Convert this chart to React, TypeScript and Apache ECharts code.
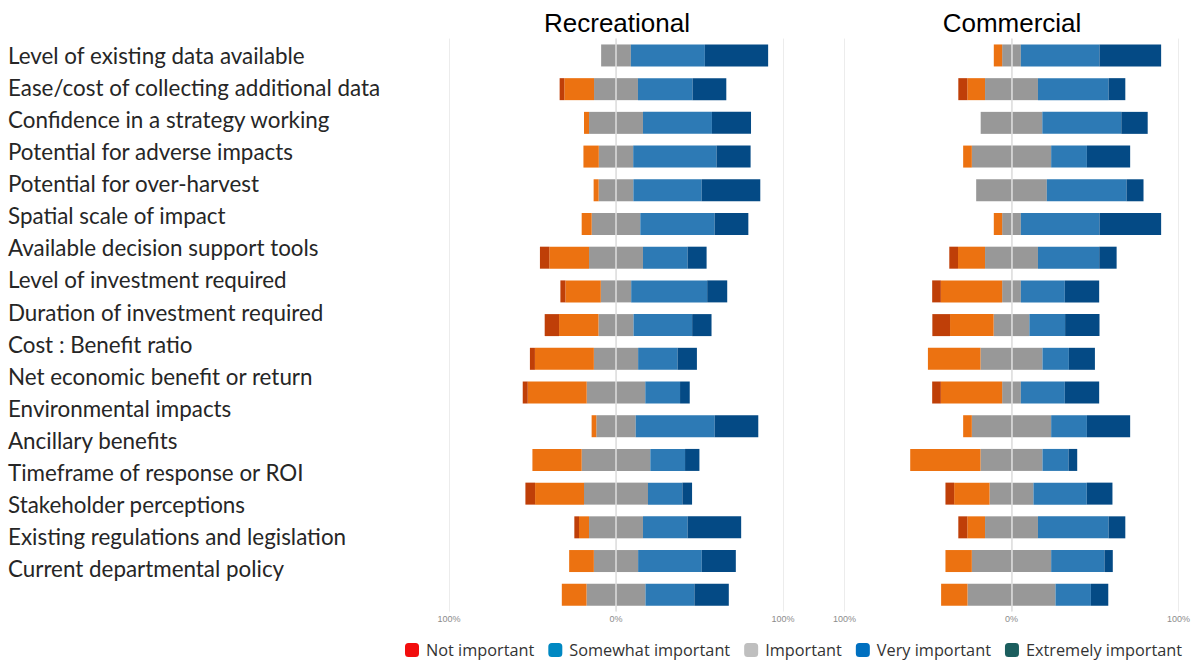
import React, { useEffect, useRef } from "react";
import * as echarts from "echarts";

const categories = [
  "Level of existing data available",
  "Ease/cost of collecting additional data",
  "Confidence in a strategy working",
  "Potential for adverse impacts",
  "Potential for over-harvest",
  "Spatial scale of impact",
  "Available decision support tools",
  "Level of investment required",
  "Duration of investment required",
  "Cost : Benefit ratio",
  "Net economic benefit or return",
  "Environmental impacts",
  "Ancillary benefits",
  "Timeframe of response or ROI",
  "Stakeholder perceptions",
  "Existing regulations and legislation",
  "Current departmental policy",
];

const panelTitles = ["Recreational", "Commercial"];
const legendNames = ["Not important", "Somewhat important", "Important", "Very important", "Extremely important"];
const tickLabels: Record<string, string> = { "-100": "100%", "0": "0%", "100": "100%" };

// Recreational (%)
const recNot = [0, 2.8, 0, 0, 0, 0, 5.6, 3.0, 8.6, 3.0, 3.0, 0, 0, 5.8, 2.8, 0, 0];
const recSomewhat = [0, 17.8, 3.0, 9.2, 3.0, 6.0, 23.8, 21.2, 23.6, 35.3, 35.3, 2.8, 29.5, 29.3, 6.0, 14.8, 14.8];
const recImportant = [17.8, 26.3, 32.3, 20.6, 20.8, 29.1, 32.3, 18.2, 21.0, 26.5, 35.1, 23.6, 41.1, 38.3, 32.3, 26.5, 35.3];
const recVery = [44.3, 32.7, 41.3, 49.9, 40.9, 44.5, 26.7, 45.5, 35.1, 23.6, 20.8, 47.3, 20.8, 20.6, 26.7, 38.1, 29.3];
const recExtremely = [37.9, 20.2, 23.4, 20.4, 35.1, 20.2, 11.4, 12.0, 11.6, 11.6, 5.8, 26.1, 8.6, 5.8, 32.1, 20.4, 20.6];

// Commercial (%)
const comNot = [0, 5.4, 0, 0, 0, 0, 5.2, 5.2, 10.6, 0, 5.2, 0, 0, 5.2, 5.4, 0, 0];
const comSomewhat = [5.0, 10.6, 0, 5.2, 0, 5.0, 16.2, 36.7, 26.1, 31.5, 36.7, 5.2, 42.1, 21.2, 10.6, 15.8, 15.8];
const comImportant = [11.2, 31.7, 36.9, 47.5, 42.3, 11.2, 31.7, 11.2, 21.4, 37.1, 11.2, 47.5, 37.1, 26.3, 31.7, 47.5, 52.7];
const comVery = [47.1, 42.3, 47.3, 21.4, 47.7, 47.1, 36.7, 26.3, 21.4, 15.8, 26.3, 21.4, 15.6, 31.9, 42.3, 31.9, 21.2];
const comExtremely = [36.9, 10.0, 15.8, 25.9, 10.2, 36.9, 10.4, 20.6, 20.6, 15.6, 20.6, 25.9, 5.2, 15.4, 10.0, 5.0, 10.4];

const barColors = {
  not: "#BF3F08",
  somewhat: "#EC7211",
  important: "#989898",
  very: "#2D7AB5",
  extremely: "#044A85",
};
const legendColors = ["#F20D0D", "#0088C2", "#BFBFBF", "#0070C0", "#1B5E5E"];

function panelSeries(
  idx: number,
  notI: number[],
  some: number[],
  imp: number[],
  very: number[],
  ext: number[]
) {
  const base = {
    type: "bar" as const,
    xAxisIndex: idx,
    yAxisIndex: idx,
    stack: "p" + idx,
    barWidth: 22,
    silent: true,
  };
  return [
    { ...base, name: "imp-l-" + idx, data: imp.map((v) => -v / 2), itemStyle: { color: barColors.important } },
    { ...base, name: "imp-r-" + idx, data: imp.map((v) => v / 2), itemStyle: { color: barColors.important } },
    { ...base, name: "some-" + idx, data: some.map((v) => -v), itemStyle: { color: barColors.somewhat } },
    { ...base, name: "very-" + idx, data: very, itemStyle: { color: barColors.very } },
    { ...base, name: "not-" + idx, data: notI.map((v) => -v), itemStyle: { color: barColors.not } },
    {
      ...base,
      name: "ext-" + idx,
      data: ext,
      itemStyle: { color: barColors.extremely },
      markLine: {
        silent: true,
        symbol: ["none", "none"],
        label: { show: false },
        lineStyle: { color: "#dedede", width: 1.5, type: "solid" },
        data: [{ xAxis: 0 }],
        animation: false,
      },
    },
  ];
}

export default function App() {
  const ref = useRef<HTMLDivElement>(null);
  useEffect(() => {
    const chart = echarts.init(ref.current!, null, { renderer: "svg" });
    const valueAxis = (gridIndex: number) => ({
      type: "value" as const,
      gridIndex,
      min: -100,
      max: 100,
      interval: 100,
      axisLine: { show: false },
      axisTick: { show: false },
      splitLine: { show: true, lineStyle: { color: "#ececec", width: 1 } },
      axisLabel: {
        formatter: (v: number) => tickLabels[String(v)] ?? "",
        fontSize: 9,
        color: "#8c8c8c",
        margin: 3,
        fontFamily: "Liberation Sans",
        showMinLabel: true,
        showMaxLabel: true,
      },
    });
    const option: any = {
      animation: false,
      backgroundColor: "#ffffff",
      graphic: panelTitles.map((t, i) => ({
        type: "text",
        x: i === 0 ? 617 : 1012,
        y: 23,
        style: {
          text: t,
          align: "center",
          verticalAlign: "middle",
          textAlign: "center",
          textVerticalAlign: "middle",
          fontSize: 26,
          fontFamily: "Liberation Sans",
          fill: "#000000",
        },
      })),
      legend: {
        data: legendNames,
        left: 405,
        top: 642,
        padding: 0,
        itemWidth: 14,
        itemHeight: 14,
        itemGap: 14,
        icon: "roundRect",
        selectedMode: false,
        textStyle: { fontFamily: "Open Sans", fontSize: 16.3, color: "#333333", padding: [0, 0, 0, 2] },
      },
      grid: [
        { left: 449, top: 38.6, width: 334, height: 573 },
        { left: 844.5, top: 38.6, width: 334, height: 573 },
        { left: 8, top: 39, width: 10, height: 546 },
      ],
      xAxis: [valueAxis(0), valueAxis(1), { type: "value", gridIndex: 2, show: false }],
      yAxis: [
        { type: "category", gridIndex: 0, data: categories, inverse: true, show: false },
        { type: "category", gridIndex: 1, data: categories, inverse: true, show: false },
        {
          type: "category",
          gridIndex: 2,
          data: categories,
          inverse: true,
          axisLine: { show: false },
          axisTick: { show: false },
          splitLine: { show: false },
          axisLabel: {
            inside: true,
            interval: 0,
            margin: 0,
            fontSize: 22.4,
            fontFamily: "Lato",
            color: "#262626",
          },
        },
      ],
      series: [
        ...panelSeries(0, recNot, recSomewhat, recImportant, recVery, recExtremely),
        ...panelSeries(1, comNot, comSomewhat, comImportant, comVery, comExtremely),
        ...legendNames.map((n, i) => ({
          type: "bar",
          name: n,
          xAxisIndex: 2,
          yAxisIndex: 2,
          data: [],
          itemStyle: { color: legendColors[i] },
        })),
      ],
    };
    chart.setOption(option);
    return () => chart.dispose();
  }, []);
  return (
    <div
      ref={ref}
      style={{ position: "fixed", left: 0, top: 0, width: 1197, height: 661, background: "#fff" }}
    />
  );
}
